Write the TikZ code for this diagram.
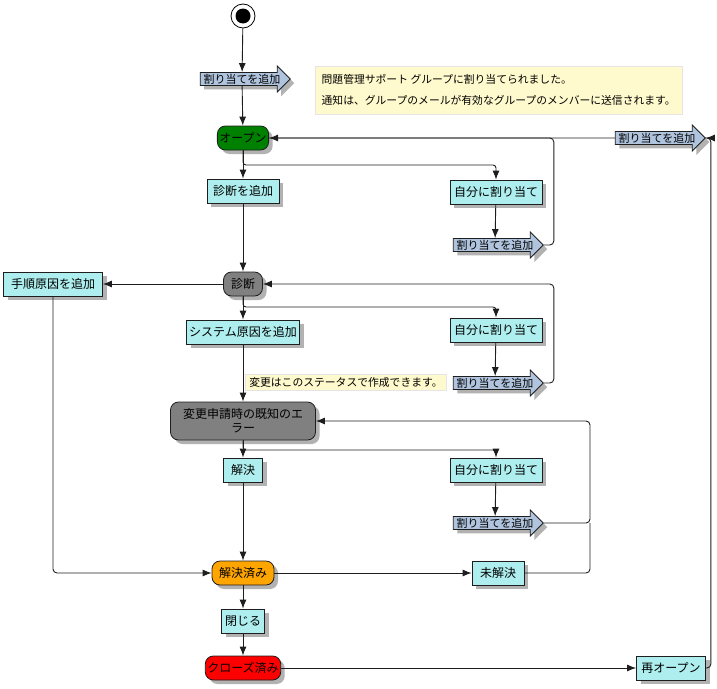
\documentclass[tikz,border=0pt]{standalone}
\usepackage{fontspec}
\setmainfont{Noto Sans CJK JP}
\usetikzlibrary{arrows.meta,shapes.arrows,shadows}
\definecolor{actfill}{RGB}{175,238,238}
\definecolor{sigfill}{RGB}{176,196,222}
\definecolor{notefill}{RGB}{255,250,205}
\definecolor{linecol}{RGB}{30,30,30}
\definecolor{stateorange}{RGB}{255,165,0}
\begin{document}
\begin{tikzpicture}[x=1pt,y=-1pt,
    every node/.style={font=\fontsize{11}{13}\selectfont,text=black},
    shade/.style={drop shadow={shadow xshift=4pt,shadow yshift=-4pt,fill=black!30,opacity=1}},
    action/.style={rectangle,draw=linecol,line width=0.8pt,fill=actfill,minimum height=24pt,inner sep=2pt,
        font=\fontsize{12}{14}\selectfont,shade},
    state/.style={rectangle,rounded corners=8pt,draw=linecol,line width=0.8pt,minimum height=24pt,inner sep=2pt,
        font=\fontsize{12}{14}\selectfont,shade},
    signal/.style={single arrow,draw=linecol,line width=0.8pt,fill=sigfill,minimum height=90pt,minimum width=26pt,
        single arrow head extend=6pt,inner xsep=0pt,inner ysep=0.5pt,shade},
    note/.style={rectangle,fill=notefill,draw=black!10,inner sep=3pt,font=\fontsize{10.8}{13}\selectfont},
    flow/.style={draw=linecol,line width=0.9pt,-{Latex[length=9pt,width=7pt]}},
    loop/.style={draw=linecol,line width=0.9pt,rounded corners=4pt}]
\useasboundingbox (0,0) rectangle (717,688);
\node[circle,draw=black,line width=0.8pt,fill=white,minimum size=24pt,inner sep=0pt] (start) at (243,16) {};
\fill (start) circle (7.5);
\node[signal] (sig1) at (242,79) {割り当てを追加};
\node[state,fill=green!50!black,minimum width=50pt] (open) at (243,138) {オープン};
\node[note,anchor=north west,minimum width=367pt,minimum height=48pt,align=left] (note1) at (315,66)
    {問題管理サポート グループに割り当てられました。\\[8pt]通知は、グループのメールが有効なグループのメンバーに送信されます。};
\node[signal] (sig5) at (657,138) {割り当てを追加};
\node[action,minimum width=72pt] (adddiag) at (243,191) {診断を追加};
\node[action,minimum width=92pt] (self1) at (496,192) {自分に割り当て};
\node[signal] (sig2) at (495,245) {割り当てを追加};
\node[state,fill=gray,minimum width=39pt] (diag) at (243,284) {診断};
\node[action,minimum width=99pt] (proc) at (53,284) {手順原因を追加};
\node[action,minimum width=92pt] (self2) at (496,330) {自分に割り当て};
\node[action,minimum width=113pt] (sysc) at (243,332) {システム原因を追加};
\node[note,minimum width=201pt,minimum height=16pt] (note2) at (346,382) {変更はこのステータスで作成できます。};
\node[signal] (sig3) at (495,383) {割り当てを追加};
\node[state,fill=gray,minimum width=145pt,minimum height=38pt,align=center] (err) at (243,421)
    {変更申請時の既知のエ\\ラー};
\node[action,minimum width=39pt] (resolve) at (243,470) {解決};
\node[action,minimum width=92pt] (self3) at (496,470) {自分に割り当て};
\node[signal] (sig4) at (495,523) {割り当てを追加};
\node[state,fill=stateorange,minimum width=62pt] (resolved) at (243,573) {解決済み};
\node[action,minimum width=52pt] (unres) at (498,573) {未解決};
\node[action,minimum width=43pt] (close) at (243,621) {閉じる};
\node[state,fill=red,minimum width=74pt] (closed) at (243,668) {クローズ済み};
\node[action,minimum width=69pt] (reopen) at (671,668) {再オープン};
\coordinate (f1) at (243,165);
\coordinate (f2) at (243,307);
\coordinate (f3) at (243,450);
\draw[flow] (start) -- (sig1);
\draw[flow] (sig1) -- (open);
\draw[flow] (open) -- (adddiag);
\draw[flow,rounded corners=3pt] (open.south) -- (f1) -| (self1.north);
\draw[flow] (self1) -- (sig2);
\draw[loop] (sig2.tip) -- ++(10,0) |- (open.east);
\draw[flow] (sig5) -- (open);
\draw[flow] (adddiag) -- (diag);
\draw[flow] (diag) -- (proc);
\draw[flow] (diag) -- (sysc);
\draw[flow,rounded corners=3pt] (diag.south) -- (f2) -| (self2.north);
\draw[flow] (self2) -- (sig3);
\draw[flow,rounded corners=4pt] (sig3.tip) -- ++(10,0) |- (diag.east);
\draw[flow] (sysc) -- (err);
\draw[flow] (err) -- (resolve);
\draw[flow,rounded corners=3pt] (err.south) -- (f3) -| (self3.north);
\draw[flow] (self3) -- (sig4);
\draw[flow,rounded corners=4pt] (sig4.tip) -- (590,523) |- (err.east);
\draw[loop] (unres.east) -| (590,523);
\draw[flow] (resolve) -- (resolved);
\draw[flow,rounded corners=4pt] (proc.south) |- (resolved.west);
\draw[flow] (resolved) -- (unres);
\draw[flow] (resolved) -- (close);
\draw[flow] (close) -- (closed);
\draw[flow] (closed) -- (reopen);
\draw[flow,rounded corners=4pt] (reopen.east) -- ++(5,0) |- (sig5.tip);
\end{tikzpicture}
\end{document}
